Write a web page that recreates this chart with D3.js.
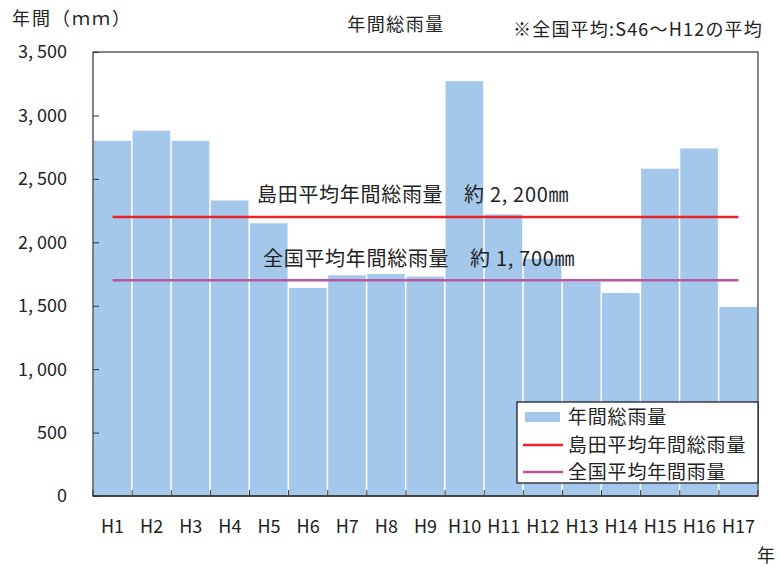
<!DOCTYPE html>
<html><head><meta charset="utf-8">
<script src="https://cdn.jsdelivr.net/npm/d3@7"></script>
<style>
body{margin:0;background:#fff;}
text{font-family:"Noto Sans CJK JP","Noto Sans",sans-serif;fill:#222;}
</style></head>
<body><svg id="c" width="779" height="566"></svg>
<script>
const categories = ["H1","H2","H3","H4","H5","H6","H7","H8","H9","H10","H11","H12","H13","H14","H15","H16","H17"];
const rainfall = [2800,2880,2800,2330,2150,1640,1740,1750,1730,3270,2220,1870,1690,1600,2580,2740,1490];
const shimadaAvg = 2200;
const nationalAvg = 1700;
const yTicks = [0,500,1000,1500,2000,2500,3000,3500];
const legendLabels = ["年間総雨量","島田平均年間総雨量","全国平均年間雨量"];

const svg = d3.select("#c");
const L=93, R=758, T=52, B=496;
const x = d3.scaleBand().domain(categories).range([L,R]).padding(0);
const y = d3.scaleLinear().domain([0,3500]).range([B,T]);
const bw = x.bandwidth();

// bars
svg.append("g").selectAll("rect").data(rainfall).join("rect")
  .attr("x",(d,i)=>x(categories[i])+0.5)
  .attr("width",bw-1.5)
  .attr("y",d=>y(d))
  .attr("height",d=>B-y(d))
  .attr("fill","#a3c8eb");

// frame
svg.append("rect").attr("x",L).attr("y",T).attr("width",R-L).attr("height",B-T)
  .attr("fill","none").attr("stroke","#333").attr("stroke-width",1.2);

// y axis ticks (inward)
const fmt = d=>d3.format(",")(d).replace(",",", ");
const ya = svg.append("g").attr("transform",`translate(${L},0)`)
  .call(d3.axisRight(y).tickValues(yTicks).tickSize(6).tickFormat(""));
ya.select(".domain").remove();
ya.selectAll("line").attr("stroke","#333");
svg.append("g").selectAll("text").data(yTicks).join("text")
  .attr("x",67).attr("y",d=>y(d)).attr("dy","0.36em")
  .attr("text-anchor","end").attr("font-size",18).text(fmt);

// x axis ticks at band boundaries (inward)
const bounds = categories.map(c=>x(c)).concat([R]);
svg.append("g").selectAll("line").data(bounds).join("line")
  .attr("x1",d=>d).attr("x2",d=>d).attr("y1",B).attr("y2",B-6)
  .attr("stroke","#333");
svg.append("line").attr("x1",L).attr("x2",R).attr("y1",B).attr("y2",B).attr("stroke","#333").attr("stroke-width",1.5);
svg.append("g").selectAll("text").data(categories).join("text")
  .attr("x",d=>x(d)+bw/2).attr("y",533).attr("text-anchor","middle")
  .attr("font-size",18).text(d=>d);

// average lines
const x0 = x(categories[0])+bw/2, x1 = x(categories[categories.length-1])+bw/2;
svg.append("line").attr("x1",x0).attr("x2",x1).attr("y1",y(shimadaAvg)).attr("y2",y(shimadaAvg))
  .attr("stroke","#ec2329").attr("stroke-width",2.5);
svg.append("line").attr("x1",x0).attr("x2",x1).attr("y1",y(nationalAvg)).attr("y2",y(nationalAvg))
  .attr("stroke","#b8569f").attr("stroke-width",2.5);

svg.append("text").attr("x",257).attr("y",y(shimadaAvg)-15).attr("font-size",20).attr("letter-spacing",0.7)
  .text("島田平均年間総雨量　約 "+fmt(shimadaAvg)+"㎜");
svg.append("text").attr("x",263).attr("y",y(nationalAvg)-14).attr("font-size",20).attr("letter-spacing",0.7)
  .text("全国平均年間総雨量　約 "+fmt(nationalAvg)+"㎜");

// texts
svg.append("text").attr("x",12).attr("y",25).attr("font-size",18).attr("letter-spacing",2).text("年間（ｍｍ）");
svg.append("text").attr("x",396).attr("y",31).attr("text-anchor","middle").attr("font-size",18).attr("letter-spacing",1.5).text("年間総雨量");
svg.append("text").attr("x",513).attr("y",36).attr("font-size",18).attr("letter-spacing",1.2).text("※全国平均:S46〜H12の平均");
svg.append("text").attr("x",757).attr("y",562).attr("font-size",18).text("年");

// legend
const lg = svg.append("g");
lg.append("rect").attr("x",517).attr("y",402).attr("width",241).attr("height",81)
  .attr("fill","#fff").attr("stroke","#111").attr("stroke-width",1.2);
const rows=[417,445,472];
lg.append("rect").attr("x",525).attr("y",rows[0]-5).attr("width",35).attr("height",10).attr("fill","#a3c8eb");
lg.append("line").attr("x1",523).attr("x2",563).attr("y1",rows[1]).attr("y2",rows[1]).attr("stroke","#ec2329").attr("stroke-width",2.5);
lg.append("line").attr("x1",523).attr("x2",563).attr("y1",rows[2]).attr("y2",rows[2]).attr("stroke","#b8569f").attr("stroke-width",2.5);
lg.selectAll("text.l").data(legendLabels).join("text").attr("class","l")
  .attr("x",568).attr("y",(d,i)=>rows[i]).attr("dy","0.36em").attr("font-size",19).attr("letter-spacing",0.8).text(d=>d);
</script></body></html>
